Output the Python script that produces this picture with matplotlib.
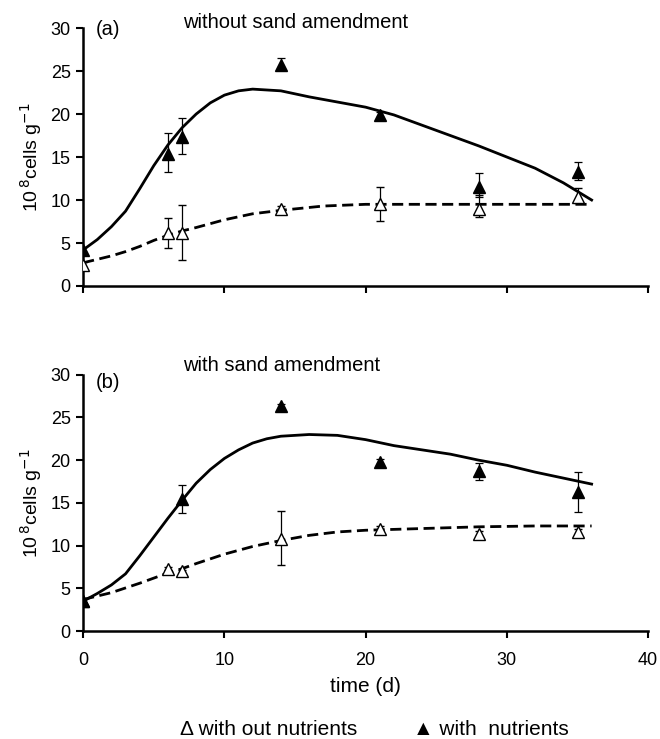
import matplotlib
matplotlib.use("Agg")
import matplotlib.pyplot as plt

plt.rcParams.update({
    "font.family":       ["Liberation Sans", "DejaVu Sans"],
    "font.size":         13,
    "axes.spines.top":   False,
    "axes.spines.right": False,
    "axes.linewidth":    1.8,
    "xtick.major.width": 1.5,
    "ytick.major.width": 1.5,
    "xtick.major.size":  5,
    "ytick.major.size":  5,
})

# ── measured points ──────────────────────────────────────────────
# (a) without sand amendment
t_a      = [0, 6, 7, 14, 21, 28, 35]
nut_a    = [4.2, 15.4, 17.3, 25.7, 19.9, 11.5, 13.3]
nut_a_lo = [0.3, 2.1, 2.0, 0.6, 0.3, 1.2, 1.0]
nut_a_hi = [0.3, 2.4, 2.2, 0.8, 0.3, 1.6, 1.1]
no_a     = [2.5, 6.2, 6.2, 9.0, 9.5, 9.0, 10.3]
no_a_lo  = [0.3, 1.8, 3.2, 0.3, 1.9, 1.0, 0.7]
no_a_hi  = [0.3, 1.7, 3.2, 0.3, 2.0, 1.6, 1.1]

# (b) with sand amendment
t_b_nut  = [0, 7, 14, 21, 28, 35]
nut_b    = [3.5, 15.4, 26.3, 19.8, 18.7, 16.3]
nut_b_lo = [0.3, 1.6, 0.2, 0.2, 1.0, 2.4]
nut_b_hi = [0.3, 1.7, 0.3, 0.3, 1.0, 2.3]
t_b_no   = [0, 6, 7, 14, 21, 28, 35]
no_b     = [3.5, 7.3, 7.0, 10.8, 11.9, 11.4, 11.6]
no_b_lo  = [0.3, 0.2, 0.2, 3.1, 0.3, 0.3, 0.3]
no_b_hi  = [0.3, 0.2, 0.2, 3.2, 0.4, 0.3, 0.3]

# ── fitted curves ────────────────────────────────────────────────
fit_t_a_nut = [0, 1, 2, 3, 4, 5, 6, 7, 8, 9, 10, 11, 12, 14, 16, 18, 20,
               22, 24, 26, 28, 30, 32, 34, 36]
fit_a_nut   = [4.2, 5.4, 6.9, 8.7, 11.3, 14.0, 16.4, 18.4, 20.0, 21.3, 22.2,
               22.7, 22.9, 22.7, 22.0, 21.4, 20.8, 19.9, 18.7, 17.5, 16.3,
               15.0, 13.7, 12.0, 10.0]
fit_t_a_no  = [0, 1, 2, 3, 4, 5, 6, 7, 8, 10, 12, 14, 17, 20, 24, 28, 32, 36]
fit_a_no    = [2.7, 3.1, 3.5, 4.0, 4.6, 5.3, 5.9, 6.4, 6.8, 7.7, 8.4, 8.8,
               9.3, 9.5, 9.5, 9.5, 9.5, 9.5]

fit_t_b_nut = [0, 1, 2, 3, 4, 5, 6, 7, 8, 9, 10, 11, 12, 13, 14, 16, 18,
               20, 22, 24, 26, 28, 30, 32, 34, 36]
fit_b_nut   = [3.5, 4.4, 5.4, 6.7, 8.8, 11.0, 13.2, 15.3, 17.3, 18.9, 20.2,
               21.2, 22.0, 22.5, 22.8, 23.0, 22.9, 22.4, 21.7, 21.2, 20.7,
               20.0, 19.4, 18.6, 17.9, 17.2]
fit_t_b_no  = [0, 2, 4, 6, 7, 8, 10, 12, 14, 16, 18, 20, 24, 28, 32, 36]
fit_b_no    = [3.7, 4.5, 5.6, 6.8, 7.3, 7.9, 9.0, 9.9, 10.6, 11.2, 11.6,
               11.8, 12.0, 12.2, 12.3, 12.3]

x_ticks = [0, 10, 20, 30, 40]
y_ticks = [0, 5, 10, 15, 20, 25, 30]
y_label = r"10$^{\,8}$cells g$^{-1}$"


def draw_panel(ax, t_nut, nut, nut_err, t_no, no, no_err,
               ft_nut, f_nut, ft_no, f_no):
    ax.plot(ft_nut, f_nut, "-", color="black", lw=2.0, zorder=2)
    ax.plot(ft_no, f_no, "--", color="black", lw=2.0, dashes=(4, 2), zorder=2)
    ax.errorbar(t_no, no, yerr=no_err, fmt="^", ms=8, mfc="white", mec="black",
                mew=1.0, ecolor="black", elinewidth=0.9, capsize=3, capthick=0.9,
                zorder=3)
    ax.errorbar(t_nut, nut, yerr=nut_err, fmt="^", ms=8, mfc="black",
                mec="black", ecolor="black", elinewidth=0.9, capsize=3,
                capthick=0.9, zorder=4)
    ax.set_xlim(0, 40)
    ax.set_ylim(0, 30)
    ax.set_xticks(x_ticks)
    ax.set_yticks(y_ticks)
    ax.tick_params(direction="out", labelsize=13)
    ax.tick_params(axis="y", pad=4)
    ax.set_ylabel(y_label, fontsize=14, labelpad=5)
    for sp in ax.spines.values():
        sp.set_clip_on(False)


fig = plt.figure(figsize=(6.6, 7.39), dpi=100)
ax_a = fig.add_axes([0.126, 0.613, 0.856, 0.349])
ax_b = fig.add_axes([0.126, 0.146, 0.856, 0.347])

draw_panel(ax_a, t_a, nut_a, [nut_a_lo, nut_a_hi], t_a, no_a, [no_a_lo, no_a_hi],
           fit_t_a_nut, fit_a_nut, fit_t_a_no, fit_a_no)
draw_panel(ax_b, t_b_nut, nut_b, [nut_b_lo, nut_b_hi], t_b_no, no_b,
           [no_b_lo, no_b_hi], fit_t_b_nut, fit_b_nut, fit_t_b_no, fit_b_no)

ax_a.text(0.023, 0.996, "(a)", transform=ax_a.transAxes, fontsize=14.5,
          va="center")
ax_a.text(0.177, 1.023, "without sand amendment", transform=ax_a.transAxes,
          fontsize=14.5, va="center")
ax_b.text(0.023, 0.969, "(b)", transform=ax_b.transAxes, fontsize=14.5,
          va="center")
ax_b.text(0.177, 1.035, "with sand amendment", transform=ax_b.transAxes,
          fontsize=14.5, va="center")

ax_a.tick_params(labelbottom=False)
ax_b.tick_params(axis="x", pad=10)
ax_b.set_xlabel("time (d)", fontsize=15, labelpad=6)

fig.text(0.273, 0.0135, "\u0394 with out nutrients", fontsize=15, va="center")
fig.text(0.626, 0.0135, "\u25b2 with  nutrients", fontsize=15, va="center")

fig.savefig("out.png", dpi=100)
plt.close(fig)
